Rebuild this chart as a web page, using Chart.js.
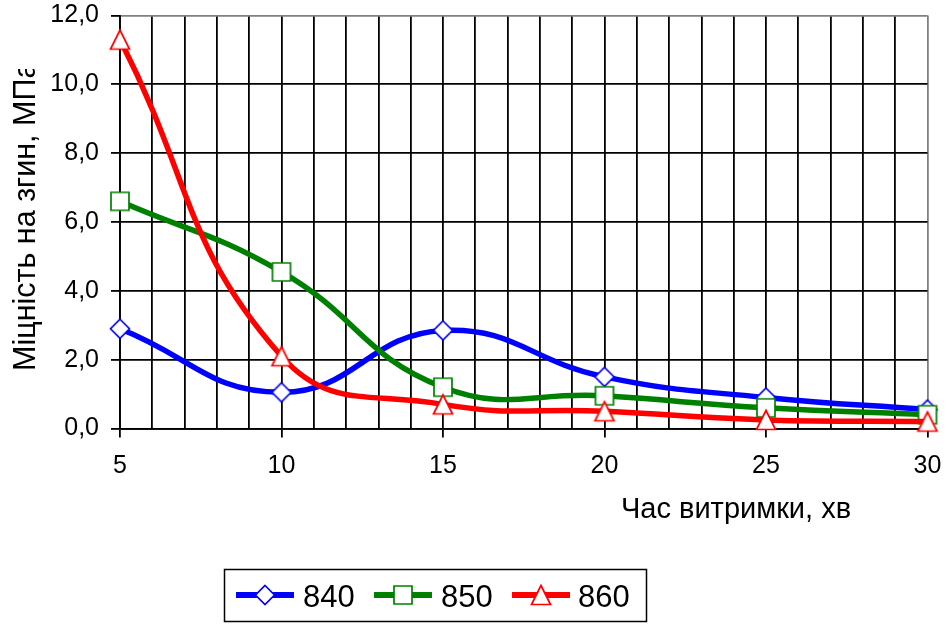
<!DOCTYPE html>
<html>
<head>
<meta charset="utf-8">
<script src="https://cdn.jsdelivr.net/npm/chart.js@4/dist/chart.umd.min.js"></script>
<style>
  html, body { margin: 0; padding: 0; background: #fff; }
  #wrap { width: 947px; height: 625px; position: relative; }
</style>
</head>
<body>
<div id="wrap"><canvas id="c" width="947" height="625"></canvas></div>
<script>
// Holding time (min) and flexural strength (MPa) for three firing temperatures
const holdTimes = [5, 10, 15, 20, 25, 30];
const s840 = [2.9, 1.05, 2.85, 1.5, 0.9, 0.55];
const s850 = [6.6, 4.55, 1.2, 0.95, 0.6, 0.4];
const s860 = [11.3, 2.1, 0.7, 0.5, 0.25, 0.2];
const seriesNames = ['840', '850', '860'];
const yTitle = 'Міцність на згин, МПа';
const xTitle = 'Час витримки, хв';

const FONT = '"Liberation Sans", Arial, sans-serif';

// Hollow marker glyphs drawn into small canvases
function makeMarker(kind, color) {
  const c = document.createElement('canvas');
  c.width = 24; c.height = 24;
  const g = c.getContext('2d');
  const cx = 12, cy = 12;
  g.beginPath();
  if (kind === 'diamond') {
    g.moveTo(cx, cy - 9.5); g.lineTo(cx + 9.5, cy); g.lineTo(cx, cy + 9.5); g.lineTo(cx - 9.5, cy);
  } else if (kind === 'square') {
    g.rect(cx - 9, cy - 9, 18, 18);
  } else {
    g.moveTo(cx, cy - 9.5); g.lineTo(cx + 9.5, cy + 9.5); g.lineTo(cx - 9.5, cy + 9.5);
  }
  g.closePath();
  g.fillStyle = '#fff';
  g.fill();
  g.lineWidth = 1.7;
  g.strokeStyle = color;
  g.stroke();
  return c;
}

const colors = ['#0000ff', '#008000', '#ff0000'];
const markers = [
  makeMarker('diamond', colors[0]),
  makeMarker('square', colors[1]),
  makeMarker('triangle', colors[2])
];

function toPoints(vals) {
  return holdTimes.map((t, i) => ({ x: t, y: vals[i] }));
}

const seriesValues = [s840, s850, s860];
const datasets = seriesValues.map((vals, i) => ({
  label: seriesNames[i],
  data: toPoints(vals),
  borderColor: colors[i],
  borderWidth: 5.5,
  tension: 0.45,
  pointStyle: markers[i],
  pointRadius: 10,
  pointHoverRadius: 10,
  clip: false,
  order: 3 - i
}));

// Tick labels may overhang the plot edges without shrinking it
function noOverhang(scale) {
  scale.paddingTop = 0;
  scale.paddingBottom = 0;
  scale.paddingLeft = 0;
  scale.paddingRight = 0;
}

// Axis titles and the boxed legend
const decorations = {
  id: 'decorations',
  afterDraw(chart) {
    const ctx = chart.ctx;
    ctx.save();
    ctx.fillStyle = '#000';

    // x-axis title
    ctx.font = '29px ' + FONT;
    ctx.textAlign = 'left';
    ctx.textBaseline = 'alphabetic';
    ctx.fillText(xTitle, 621, 518);

    // y-axis title, clipped at the top
    ctx.save();
    ctx.beginPath();
    ctx.rect(0, 69, 80, 400);
    ctx.clip();
    ctx.translate(35, 371);
    ctx.rotate(-Math.PI / 2);
    ctx.font = '30.5px ' + FONT;
    ctx.fillText(yTitle, 0, 0);
    ctx.restore();

    // legend frame
    ctx.lineWidth = 1.5;
    ctx.strokeStyle = '#000';
    ctx.strokeRect(224.5, 569.5, 422, 52);

    const lineStarts = [236, 374, 512];
    const textStarts = [303, 441, 578];
    const ly = 595;
    chart.data.datasets.forEach((ds, i) => {
      ctx.beginPath();
      ctx.moveTo(lineStarts[i], ly);
      ctx.lineTo(lineStarts[i] + 58, ly);
      ctx.lineWidth = 6;
      ctx.strokeStyle = ds.borderColor;
      ctx.stroke();
      const m = ds.pointStyle;
      ctx.drawImage(m, lineStarts[i] + 29 - m.width / 2, ly - m.height / 2);
      ctx.font = '31px ' + FONT;
      ctx.fillStyle = '#000';
      ctx.fillText(ds.label, textStarts[i], 607);
    });
    ctx.restore();
  }
};

new Chart(document.getElementById('c'), {
  type: 'line',
  data: { datasets },
  options: {
    responsive: false,
    animation: false,
    events: [],
    layout: { padding: { top: 14, right: 19.5, bottom: 0, left: 0 } },
    plugins: { legend: { display: false }, tooltip: { enabled: false } },
    scales: {
      x: {
        type: 'linear',
        min: 5,
        max: 30,
        afterFit(scale) { scale.height = 196.5; noOverhang(scale); },
        border: { display: true, color: '#000', width: 1.8 },
        grid: {
          color: (c) => (c.tick && c.tick.value === 30 ? '#808080' : '#000'),
          lineWidth: 1.8,
          tickLength: 9,
          tickColor: (c) => (c.tick && c.tick.value % 5 === 0 ? '#000' : 'rgba(0,0,0,0)'),
          tickWidth: 1.8
        },
        ticks: {
          stepSize: 1,
          autoSkip: false,
          maxRotation: 0,
          padding: 14,
          color: '#000',
          font: { size: 25, family: FONT },
          callback: (v) => (v % 5 === 0 ? String(v) : '')
        }
      },
      y: {
        min: 0,
        max: 12,
        afterFit(scale) { scale.width = 120; noOverhang(scale); },
        border: { display: true, color: '#000', width: 1.8 },
        grid: {
          color: (c) => (c.tick && c.tick.value === 12 ? '#808080' : '#000'),
          lineWidth: 1.8,
          tickLength: 9,
          tickColor: '#000',
          tickWidth: 1.8
        },
        ticks: {
          stepSize: 2,
          padding: 12,
          color: '#000',
          font: { size: 25, family: FONT },
          callback: (v) => v.toFixed(1).replace('.', ',')
        }
      }
    }
  },
  plugins: [decorations]
});
</script>
</body>
</html>
